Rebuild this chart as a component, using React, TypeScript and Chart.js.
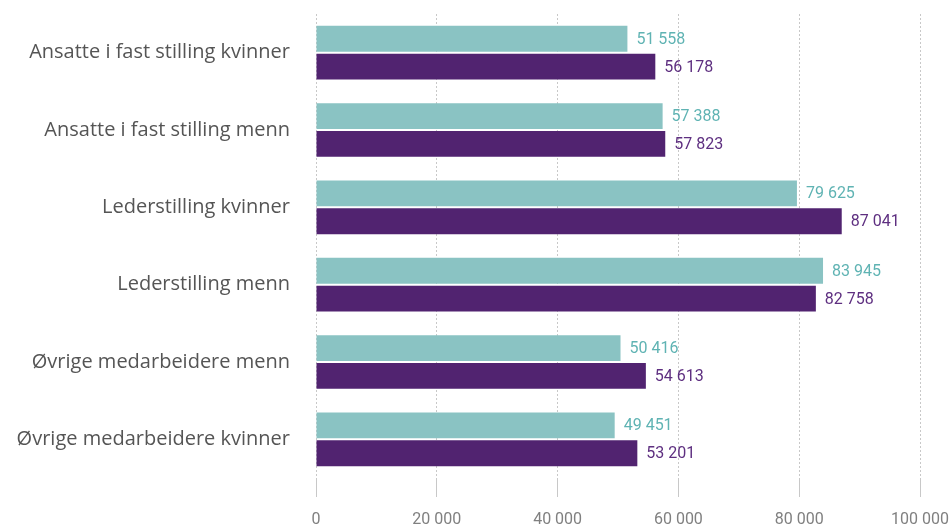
import React, { useEffect, useRef } from "react";
import { Chart, registerables } from "chart.js";

Chart.register(...registerables);

const categories = [
  "Ansatte i fast stilling kvinner",
  "Ansatte i fast stilling menn",
  "Lederstilling kvinner",
  "Lederstilling menn",
  "Øvrige medarbeidere menn",
  "Øvrige medarbeidere kvinner",
];
const seriesA = [51558, 57388, 79625, 83945, 50416, 49451];
const seriesB = [56178, 57823, 87041, 82758, 54613, 53201];
const xTicks = [0, 20000, 40000, 60000, 80000, 100000];

const fmt = (v: number) => String(Math.round(v)).replace(/\B(?=(\d{3})+(?!\d))/g, " ");

const valueLabels = {
  id: "valueLabels",
  afterDatasetsDraw(chart: any) {
    const ctx = chart.ctx;
    ctx.save();
    ctx.font = `16px Roboto`;
    ctx.textBaseline = "middle";
    ctx.textAlign = "left";
    chart.data.datasets.forEach((ds: any, i: number) => {
      const meta = chart.getDatasetMeta(i);
      ctx.fillStyle = ds.labelColor;
      meta.data.forEach((el: any, j: number) => {
        ctx.fillText(fmt(ds.data[j]), el.x + 9, el.y + 1);
      });
    });
    ctx.restore();
  },
};

export default function App() {
  const ref = useRef<HTMLCanvasElement>(null);
  useEffect(() => {
    const chart = new Chart(ref.current!, {
      type: "bar",
      data: {
        labels: categories,
        datasets: [
          {
            data: seriesA,
            backgroundColor: "#8ac3c3",
            labelColor: "#5fb3b3",
            categoryPercentage: 0.72,
            barPercentage: 0.93,
          } as any,
          {
            data: seriesB,
            backgroundColor: "#512370",
            labelColor: "#5e2f80",
            categoryPercentage: 0.72,
            barPercentage: 0.93,
          } as any,
        ],
      },
      options: {
        indexAxis: "y",
        animation: false,
        responsive: false,
        maintainAspectRatio: false,
        layout: { padding: { top: 14, right: 30, left: 0, bottom: 0 } },
        plugins: { legend: { display: false }, tooltip: { enabled: false } },
        scales: {
          x: {
            min: 0,
            max: 100000,
            afterBuildTicks: (s: any) => {
              s.ticks = xTicks.map((v) => ({ value: v }));
            },
            afterFit: (s: any) => {
              s.height = 49;
              s.paddingLeft = 0;
              s.paddingRight = 0;
            },
            grid: {
              color: "#c8c8c8",
              lineWidth: 1,
              tickLength: 19,
              drawTicks: true,
            },
            border: { display: false, dash: [2, 2] },
            ticks: {
              color: "#808080",
              font: { family: "Roboto", size: 16 },
              padding: 13,
              maxRotation: 0,
              callback: (v: any) => fmt(Number(v)),
            },
          },
          y: {
            afterFit: (s: any) => {
              s.width = 316;
              s.paddingTop = 0;
              s.paddingBottom = 0;
            },
            grid: { display: false },
            border: { display: false },
            ticks: {
              color: "#555555",
              font: { family: "'Open Sans'", size: 20 },
              padding: 18,
            },
          },
        },
      },
      plugins: [valueLabels],
    });
    return () => chart.destroy();
  }, []);
  return (
    <div style={{ position: "fixed", left: 0, top: 0, width: 950, height: 527, background: "#fff" }}>
      <canvas ref={ref} width={950} height={527} style={{ width: 950, height: 527 }} />
    </div>
  );
}
